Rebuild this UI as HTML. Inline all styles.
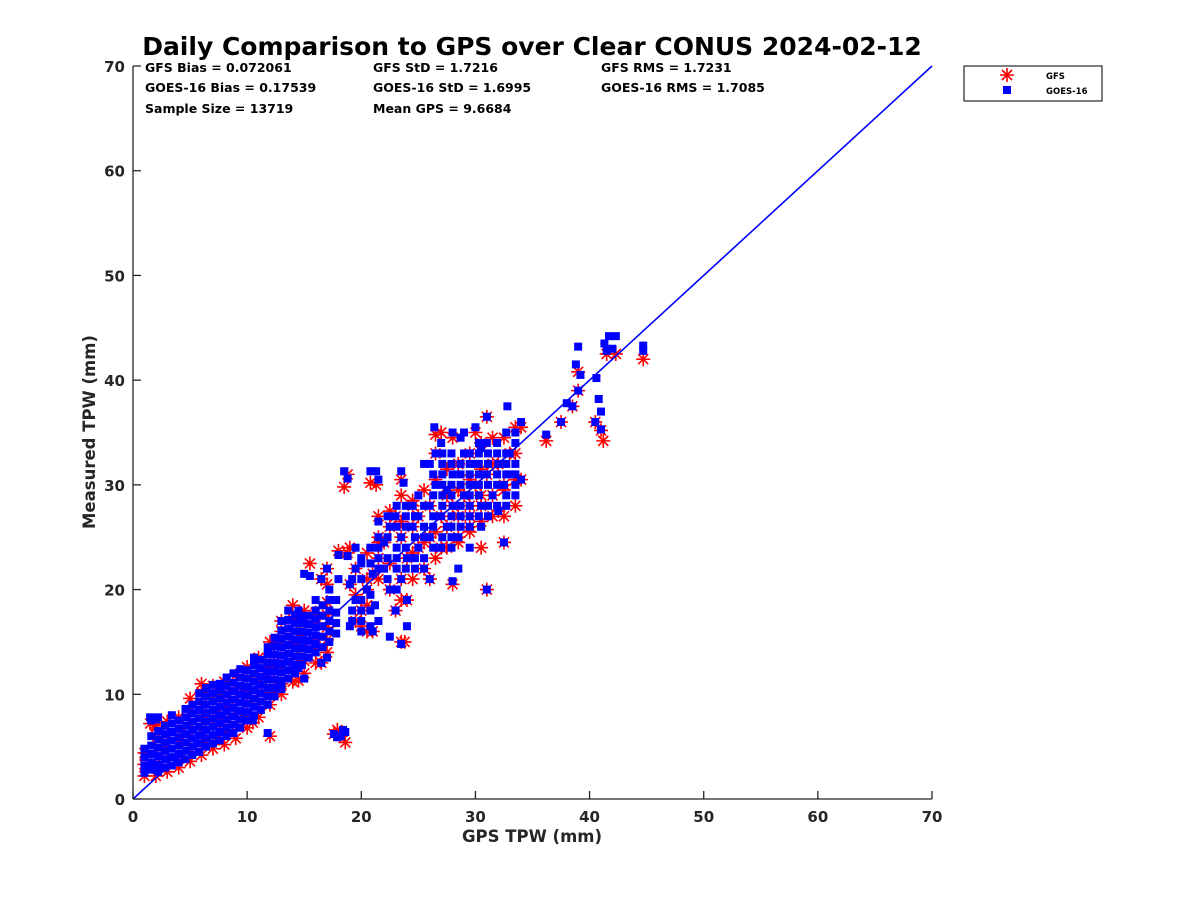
<!DOCTYPE html>
<html><head><meta charset="utf-8"><style>
body{margin:0;background:#fff}
svg text{font-family:"DejaVu Sans","Liberation Sans",sans-serif;font-weight:bold;fill:#262626}
</style></head><body>
<svg id="chart" width="1200" height="900" viewBox="0 0 1200 900" xmlns="http://www.w3.org/2000/svg">
<rect width="1200" height="900" fill="#fff"/>
<text x="532" y="55" text-anchor="middle" font-size="25" style="fill:#000">Daily Comparison to GPS over Clear CONUS 2024-02-12</text>
<g font-size="12.5">
<text x="145" y="72" style="fill:#000">GFS Bias = 0.072061</text>
<text x="145" y="92" style="fill:#000">GOES-16 Bias = 0.17539</text>
<text x="145" y="113" style="fill:#000">Sample Size = 13719</text>
<text x="373" y="72" style="fill:#000">GFS StD = 1.7216</text>
<text x="373" y="92" style="fill:#000">GOES-16 StD = 1.6995</text>
<text x="373" y="113" style="fill:#000">Mean GPS = 9.6684</text>
<text x="601" y="72" style="fill:#000">GFS RMS = 1.7231</text>
<text x="601" y="92" style="fill:#000">GOES-16 RMS = 1.7085</text>
</g>
<g id="plot"></g>
<g id="axes"></g>
<text x="532" y="842" text-anchor="middle" font-size="16.5">GPS TPW (mm)</text>
<text transform="translate(95,432) rotate(-90)" text-anchor="middle" font-size="16.5">Measured TPW (mm)</text>
<g>
<rect x="964" y="66" width="138" height="35" fill="#fff" stroke="#262626" stroke-width="1.2"/>
<path d="M1000 75h14M1007 68v14M1002 70l10 10M1012 70l-10 10" stroke="#f00" stroke-width="1.6"/>
<text x="1046" y="79" font-size="8.5" style="fill:#000">GFS</text>
<rect x="1003" y="86" width="8" height="8" fill="#00f"/>
<text x="1046" y="94" font-size="8.5" style="fill:#000">GOES-16</text>
</g>
</svg>
<script>
const xTicks=[0,10,20,30,40,50,60,70];
const yTicks=[0,10,20,30,40,50,60,70];
const refLine=[[0,0],[70,70]];
const gfsPoints=[
[1,2.2],[1,3.3],[1,4.4],[2,2.2],[2,3.4],[2,4.6],[2,5.8],[2,7],[3,2.6],[3,3.8],[3,5],[3,6.2],[3,7.4],
[4,3],[4,4.2],[4,5.4],[4,6.6],[4,7.8],[5,3.6],[5,4.8],[5,6],[5,7.2],[5,8.4],[5,9.6],
[6,4.2],[6,5.4],[6,6.6],[6,7.8],[6,9],[6,10.2],[6,11],[7,4.8],[7,6],[7,7.2],[7,8.4],[7,9.6],[7,10.8],
[8,5.2],[8,6.4],[8,7.6],[8,8.8],[8,10],[8,11.2],[9,5.8],[9,7],[9,8.2],[9,9.4],[9,10.6],[9,11.8],
[10,6.8],[10,8],[10,9.2],[10,10.4],[10,11.6],[10,12.6],[11,7.8],[11,9],[11,10.2],[11,11.4],[11,12.6],[11,13.5],
[12,9],[12,10.2],[12,11.4],[12,12.6],[12,13.8],[12,15],[13,10],[13,11.2],[13,12.4],[13,13.6],[13,14.8],[13,16],[13,17],
[14,11.2],[14,12.4],[14,13.6],[14,14.8],[14,16],[14,17.2],[14,18.5],[15,12],[15,13.2],[15,14.4],[15,15.6],[15,16.8],[15,18],
[16,13],[16,14.2],[16,15.4],[16,16.6],[16,17.8],[17,14],[17,15.2],[17,16.4],[17,17.6],[17,18.8],[17,20.5],
[17.6,6.2],[18.2,6],[18.6,5.4],[17.9,6.6],[12,6],[10.5,7.3],[1.5,7.2],[2,6.8],[15.5,22.5],[16.5,21],[17,22],[18,23.7],[18.8,23.5],
[18.5,29.8],[18.8,31],[20.8,30.2],[21.3,30],[23.5,30.5],[19.5,22],[19,20.5],[20,18],[20.5,20],[21,21.5],[21.5,23],[22,24.5],
[22.5,20],[23,18],[23.5,21],[24,23],[24,19],[24.5,26],[25,27],[25,24],[25.5,22],[26,25],[26,28],[27,27],[27,24],[27.5,26],
[28,28],[28.5,25],[29,29],[29.5,27],[30,30],[30.5,28],[31,31],[31.5,29],[32,32],[32,27.5],[32.5,30],[33,33],[34,30.5],[34,35.5],
[26.5,34.8],[28,34.5],[30,35],[31,36.5],[22.5,26],[23,27],[23.5,25],[24.5,28],[21,16],[20,16.5],[23.5,15],[26,21],[28,20.5],[31,20],
[32.5,24.5],[30.5,24],[29.5,26],[36.2,34.2],[37.5,36],[38.5,37.5],[39,39],[39,40.8],[40.5,36],[41,35.2],[41.2,34.2],[41.5,42.5],[42.3,42.5],[44.7,42],
[14.5,11.3],[16.5,13],[13,11],[23.8,15],[19,24],[21.5,24.5],[27,35],
[21.5,21],[21.5,25],[21.5,27],[22.5,22.5],[22.5,27.5],[23.5,19],[23.5,26.5],[23.5,29],[24.5,21],[24.5,23.5],[24.5,28.5],[25.5,24.5],[25.5,29.5],
[26.5,23],[26.5,25.5],[26.5,30.5],[26.5,33],[27.5,24],[27.5,29],[27.5,31.5],[28.5,24.5],[28.5,27],[28.5,29.5],[28.5,32],[29.5,25.5],[29.5,28],[29.5,30.5],[29.5,33],
[30.5,26.5],[30.5,29],[30.5,31.5],[30.5,34],[31.5,27],[31.5,32],[31.5,34.5],[32.5,27],[32.5,29.5],[32.5,34.5],[33.5,28],[33.5,30.5],[33.5,33],[33.5,35.5],
[19.5,17],[19.5,19.5],[20.5,16],[20.5,18.5],[20.5,21],[20.5,23.5]];
const goesPoints=[
[1,2.5],[1,3.2],[1,4],[1,4.8],[1.6,2.8],[1.6,3.5],[1.6,4.3],[1.6,5.1],[1.6,6],[1.6,7.5],[2.2,2.6],[2.2,3.3],[2.2,4.1],[2.2,4.9],[2.2,5.7],[2.2,6.5],[2.2,7.8],
[2.8,3],[2.8,3.8],[2.8,4.6],[2.8,5.4],[2.8,6.2],[2.8,7],[3.4,3.2],[3.4,4],[3.4,4.8],[3.4,5.6],[3.4,6.4],[3.4,7.2],[3.4,8],
[4,3.5],[4,4.3],[4,5.1],[4,5.9],[4,6.7],[4,7.5],[4.6,3.8],[4.6,4.6],[4.6,5.4],[4.6,6.2],[4.6,7],[4.6,7.8],[4.6,8.6],
[5.2,4.2],[5.2,5],[5.2,5.8],[5.2,6.6],[5.2,7.4],[5.2,8.2],[5.2,9],[5.8,4.5],[5.8,5.3],[5.8,6.1],[5.8,6.9],[5.8,7.7],[5.8,8.5],[5.8,9.3],[5.8,10.1],
[6.4,5],[6.4,5.8],[6.4,6.6],[6.4,7.4],[6.4,8.2],[6.4,9],[6.4,9.8],[6.4,10.6],[7,5.3],[7,6.1],[7,6.9],[7,7.7],[7,8.5],[7,9.3],[7,10.1],[7,10.9],
[7.6,5.6],[7.6,6.4],[7.6,7.2],[7.6,8],[7.6,8.8],[7.6,9.6],[7.6,10.4],[7.6,11],[8.2,6],[8.2,6.8],[8.2,7.6],[8.2,8.4],[8.2,9.2],[8.2,10],[8.2,10.8],[8.2,11.6],
[8.8,6.3],[8.8,7.1],[8.8,7.9],[8.8,8.7],[8.8,9.5],[8.8,10.3],[8.8,11.1],[8.8,12],[9.4,6.8],[9.4,7.6],[9.4,8.4],[9.4,9.2],[9.4,10],[9.4,10.8],[9.4,11.6],[9.4,12.4],
[10,7.5],[10,8.3],[10,9.1],[10,9.9],[10,10.7],[10,11.5],[10,12.3],[10.6,8],[10.6,8.8],[10.6,9.6],[10.6,10.4],[10.6,11.2],[10.6,12],[10.6,12.8],[10.6,13.5],
[11.2,8.5],[11.2,9.3],[11.2,10.1],[11.2,10.9],[11.2,11.7],[11.2,12.5],[11.2,13.3],[11.8,9],[11.8,9.8],[11.8,10.6],[11.8,11.4],[11.8,12.2],[11.8,13],[11.8,13.8],[11.8,14.5],
[12.4,9.8],[12.4,10.6],[12.4,11.4],[12.4,12.2],[12.4,13],[12.4,13.8],[12.4,14.6],[12.4,15.4],[13,10.5],[13,11.3],[13,12.1],[13,12.9],[13,13.7],[13,14.5],[13,15.3],[13,16.1],[13,17],
[13.6,11.5],[13.6,12.3],[13.6,13.1],[13.6,13.9],[13.6,14.7],[13.6,15.5],[13.6,16.3],[13.6,17.1],[13.6,18],[14.2,12],[14.2,12.8],[14.2,13.6],[14.2,14.4],[14.2,15.2],[14.2,16],[14.2,16.8],[14.2,17.6],
[14.8,12.8],[14.8,13.6],[14.8,14.4],[14.8,15.2],[14.8,16],[14.8,16.8],[14.8,17.5],[15.4,13.5],[15.4,14.3],[15.4,15.1],[15.4,15.9],[15.4,16.7],[15.4,17.5],
[16,14],[16,14.8],[16,15.6],[16,16.4],[16,17.2],[16,18],[16.6,14.5],[16.6,15.5],[16.6,16.5],[16.6,17.5],[16.6,18.5],[17.2,15],[17.2,16],[17.2,17],[17.2,18],[17.2,19],[17.2,20],
[17.8,15.8],[17.8,16.8],[17.8,17.8],[17.8,19],[17.6,6.2],[18.2,6],[18.6,6.4],[17.9,5.9],[18.4,6.6],[11.8,6.3],[10.5,7.5],[1.5,7.8],[2,7.6],
[18.5,31.3],[18.8,30.6],[20.8,31.3],[21.3,31.3],[21.5,30.5],[23.5,31.3],[23.7,30.2],[18,23.3],[18.8,23.2],[19.5,22],[19,20.5],[19.5,19],[20,18],[20.5,20],[21,21.5],
[21.5,23],[22,24.5],[22,22],[22.5,20],[23,18],[23.5,21],[24,23],[24,19],[24.5,26],[25,27],[25,24],[25.5,22],[26,25],[26,28],[26.5,30],[27,27],[27,24],[27.5,26],
[28,28],[28,31],[28.5,25],[29,29],[29,33],[29.5,27],[30,30],[30,32],[30.5,28],[31,31],[31,34],[31.5,29],[32,32],[32,27.5],[32.5,30],[33,33],[33,31],[33.5,35],
[34,30.5],[34,36],[26.5,33],[27,34],[28,35],[29,35],[30,35.5],[31,36.5],[22.5,26],[23,27],[23.5,25],[24.5,28],[21,16],[21.5,17],[20,16],[19,16.5],[22.5,15.5],
[23.5,14.8],[24,16.5],[26,21],[28,20.8],[31,20],[32.5,24.5],[28.5,22],[29.5,24],[30.5,26],[26,32],[25,29],[27.5,29.5],[30.5,33.5],[18,21],[17,22],[16.5,21],
[15.5,21.3],[15,21.5],[14.5,18],[16,19],[17,13.5],[16.5,13],[14.5,12.5],[15,11.5],[13,11],[19.5,24],[20,22.5],[21.2,18.5],[32.8,37.5],[26.4,35.5],
[36.2,34.8],[37.5,36],[38,37.8],[38.5,37.5],[39,39],[39.2,40.5],[39,43.2],[38.8,41.5],[40.5,36],[41,35.3],[41,37],[41.5,42.8],[42,43],[41.7,44.2],[42.3,44.2],
[44.7,42.8],[44.7,43.3],[40.8,38.2],[40.6,40.2],[41.3,43.5],
[21.5,22],[21.5,24],[21.5,25],[21.5,26.5],[22.3,21],[22.3,23],[22.3,25],[22.3,27],[23.1,20],[23.1,22],[23.1,23],[23.1,24],[23.1,26],[23.1,28],
[23.9,22],[23.9,24],[23.9,26],[23.9,27],[23.9,28],[24.7,22],[24.7,23],[24.7,25],[24.7,27],[25.5,23],[25.5,25],[25.5,26],[25.5,28],[25.5,32],
[26.3,24],[26.3,26],[26.3,27],[26.3,29],[26.3,31],[27.1,25],[27.1,28],[27.1,29],[27.1,30],[27.1,31],[27.1,32],[27.1,33],
[27.9,24],[27.9,25],[27.9,26],[27.9,27],[27.9,29],[27.9,30],[27.9,32],[27.9,33],[28.7,26],[28.7,27],[28.7,28],[28.7,30],[28.7,31],[28.7,32],[28.7,34.5],
[29.5,26],[29.5,28],[29.5,29],[29.5,30],[29.5,31],[29.5,32],[29.5,33],[30.3,27],[30.3,29],[30.3,30],[30.3,31],[30.3,32],[30.3,33],[30.3,34],
[31.1,27],[31.1,28],[31.1,30],[31.1,32],[31.1,33],[31.9,28],[31.9,30],[31.9,31],[31.9,33],[31.9,34],[32.7,28],[32.7,29],[32.7,31],[32.7,32],[32.7,33],[32.7,35],
[33.5,29],[33.5,30],[33.5,31],[33.5,32],[33.5,34],[19.2,17],[19.2,18],[19.2,21],[20,17],[20,19],[20,21],[20,23],[20.8,16.5],[20.8,18],[20.8,19.5],[20.8,22.5],[20.8,24]];

const X0=133,X1=932,Y0=799,Y1=66;
const xs=v=>X0+(X1-X0)*v/70;
const ys=v=>Y0-(Y0-Y1)*v/70;
const NS="http://www.w3.org/2000/svg";
const plot=document.getElementById('plot'),axes=document.getElementById('axes');
function mk(tag,attrs,parent){const e=document.createElementNS(NS,tag);for(const k in attrs)e.setAttribute(k,attrs[k]);parent.appendChild(e);return e;}

gfsPoints.forEach(p=>{
  const cx=xs(p[0]),cy=ys(p[1]),r=7,d=5;
  const el=mk('path',{d:`M${cx-r} ${cy}h${2*r}M${cx} ${cy-r}v${2*r}M${cx-d} ${cy-d}l${2*d} ${2*d}M${cx+d} ${cy-d}l${-2*d} ${2*d}`,stroke:'#f00','stroke-width':1.6,fill:'none'},plot);
  
  
});
goesPoints.forEach(p=>{
  const el=mk('rect',{x:xs(p[0])-4,y:ys(p[1])-4,width:8,height:8,fill:'#00f'},plot);
  
  
});
const ln=mk('line',{x1:xs(refLine[0][0]),y1:ys(refLine[0][1]),x2:xs(refLine[1][0]),y2:ys(refLine[1][1]),stroke:'#00f','stroke-width':1.6},plot);



const xa=mk('line',{x1:X0,y1:Y0,x2:X1,y2:Y0,stroke:'#262626','stroke-width':1.3},axes);


const ya=mk('line',{x1:X0,y1:Y0,x2:X0,y2:Y1,stroke:'#262626','stroke-width':1.3},axes);


xTicks.forEach(t=>{
  const tk=mk('line',{x1:xs(t),y1:Y0,x2:xs(t),y2:Y0-8,stroke:'#262626','stroke-width':1.3},axes);
  
  
  const tx=mk('text',{x:xs(t),y:Y0+23,'text-anchor':'middle','font-size':15},axes);
  tx.textContent=t;
  
  
});
yTicks.forEach(t=>{
  const tk=mk('line',{x1:X0,y1:ys(t),x2:X0+8,y2:ys(t),stroke:'#262626','stroke-width':1.3},axes);
  
  
  const tx=mk('text',{x:X0-8,y:ys(t)+6,'text-anchor':'end','font-size':15},axes);
  tx.textContent=t;
  
  
});
</script>
</body></html>
